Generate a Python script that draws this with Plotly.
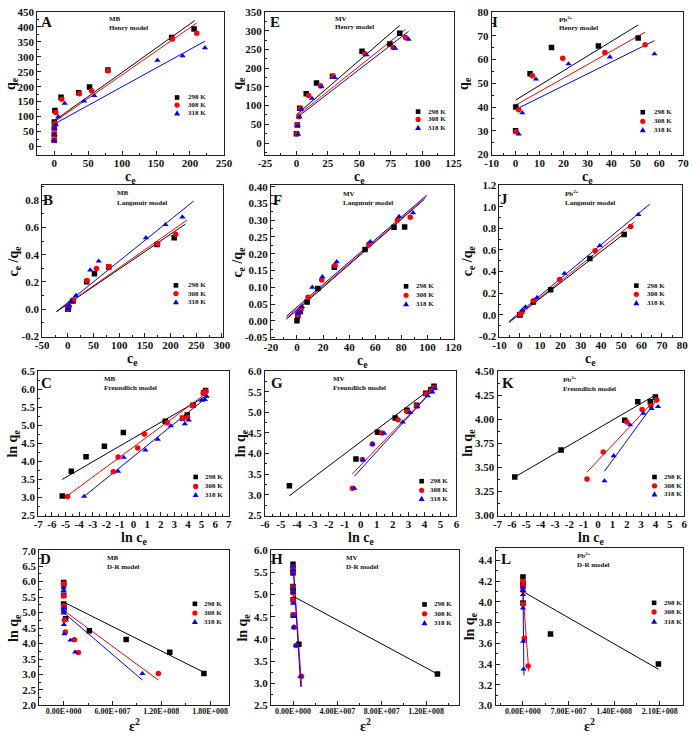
import math
import plotly.graph_objects as go

W, H = 700, 740
COLORS = ['#000000', '#ff0000', '#0000ff']
SYMBOLS = ['square', 'circle', 'triangle-up']
TEMPS = ['298 K', '308 K', '318 K']

# ---------------- MB ----------------
A_x = [[0.005, 0.01, 0.03, 0.11, 1.0, 10, 36, 52, 79, 173, 206],
       [0.015, 0.22, 0.3, 1.35, 2.2, 11, 37, 55, 79, 174, 210],
       [0.025, 0.33, 0.5, 2.3, 6, 15.4, 44, 59, 152, 189, 222]]
A_y = [[20.7, 41, 62, 82, 120, 165, 180, 199, 256, 364, 393],
       [20.7, 40.4, 60.3, 77.5, 114, 158, 176, 186, 253, 359, 379],
       [20.7, 40.4, 60.3, 72, 99, 144, 152, 170, 288, 303, 330]]
A_fx = [[0, 207], [0, 210], [0, 222]]
A_fy = [[86, 421], [82, 413], [75, 352]]

B_x = [[0.005, 0.01, 0.03, 0.11, 1.0, 10, 36.6, 51.8, 79.6, 173.7, 207],
       [0.015, 0.22, 0.3, 1.35, 2.2, 11, 37.3, 55.6, 79.6, 175, 210],
       [0.025, 0.33, 0.5, 2.3, 6, 15.8, 43.6, 60, 152, 190, 223]]
B_y = [[0.0003, 0.0003, 0.0005, 0.0013, 0.008, 0.06, 0.202, 0.26, 0.309, 0.475, 0.523],
       [0.0007, 0.005, 0.005, 0.017, 0.019, 0.069, 0.21, 0.299, 0.313, 0.48, 0.55],
       [0.0012, 0.008, 0.008, 0.031, 0.06, 0.10, 0.287, 0.352, 0.523, 0.62, 0.675]]
B_fx = [[-22, 229], [-22, 232], [-22, 245]]
B_fy = [[-0.017, 0.624], [-0.017, 0.653], [-0.017, 0.793]]

C_x = [[-5.24, -4.57, -3.49, -2.14, -0.75, 2.33, 3.6, 3.94, 4.37, 5.15, 5.29],
       [-4.85, -1.49, -1.13, 0.31, 0.79, 2.48, 3.6, 3.97, 4.33, 5.12, 5.31],
       [-3.63, -1.13, -0.72, 0.87, 1.78, 2.74, 3.77, 4.06, 5.02, 5.24, 5.38]]
C_y = [[3.04, 3.73, 4.13, 4.42, 4.80, 5.11, 5.19, 5.28, 5.55, 5.90, 5.96],
       [3.03, 3.71, 4.12, 4.37, 4.76, 5.07, 5.19, 5.22, 5.54, 5.89, 5.94],
       [3.03, 3.72, 4.11, 4.31, 4.61, 4.98, 5.04, 5.14, 5.69, 5.71, 5.80]]
C_fx = [[-5.24, 5.34], [-4.86, 5.34], [-3.63, 5.38]]
C_fy = [[3.50, 5.81], [3.05, 5.88], [3.03, 5.77]]

D_x = [[1.724e8, 1.304e8, 7.68e7, 3.16e7, 2.4e6, 3e5, 5e4, 3e4, 1e4, 2e3, 1e3],
       [1.164e8, 1.8e7, 1.32e7, 2.0e6, 8e5, 2e5, 5e4, 3e4, 1e4, 2e3, 1e3],
       [9.68e7, 1.4e7, 8.4e6, 9e5, 3e5, 1e5, 5e4, 3e4, 5e3, 2e3, 1e3]]
D_y = [[3.03, 3.72, 4.13, 4.41, 4.80, 5.11, 5.19, 5.28, 5.55, 5.90, 5.97],
       [3.03, 3.71, 4.12, 4.37, 4.76, 5.07, 5.19, 5.22, 5.54, 5.89, 5.94],
       [3.03, 3.72, 4.11, 4.31, 4.61, 4.98, 5.04, 5.14, 5.69, 5.71, 5.80]]
D_fx = [[0, 1.724e8], [0, 1.164e8], [0, 9.68e7]]
D_fy = [[5.34, 3.07], [5.07, 2.82], [5.0, 2.82]]

# ---------------- MV ----------------
E_x = [[0.01, 0.7, 2.6, 7.8, 16.0, 28.7, 52.2, 74.4, 82.2],
       [0.5, 0.8, 2.0, 3.3, 9.7, 19.2, 29.2, 54.5, 77, 86.8],
       [1.3, 1.3, 2.3, 3.9, 12.4, 20, 30.4, 55.8, 78.6, 89.2]]
E_y = [[25, 48, 93, 131.6, 160.5, 178, 244.7, 264, 293],
       [24.6, 48, 70, 92, 127, 152.6, 178, 238.6, 255, 282],
       [23, 47, 70, 90, 119, 150, 174.6, 235, 253, 277]]
E_fx = [[0, 82.2], [0, 86.8], [0, 89.2]]
E_fy = [[75.4, 314], [71, 303.5], [66.7, 298]]

F_x = [[0.01, 0.7, 2.6, 7.8, 16.0, 28.7, 52.2, 74.4, 82.5],
       [0.5, 0.8, 2.0, 3.3, 8.5, 19.0, 29.2, 55, 77, 86.8],
       [0.58, 1.05, 2.0, 3.9, 11.75, 19.5, 30.5, 56.2, 78.2, 89]]
F_y = [[0.0004, 0.0146, 0.028, 0.056, 0.096, 0.160, 0.213, 0.279, 0.28],
       [0.02, 0.017, 0.029, 0.036, 0.07, 0.122, 0.165, 0.228, 0.301, 0.309],
       [0.024, 0.022, 0.029, 0.042, 0.10, 0.131, 0.176, 0.236, 0.311, 0.322]]
F_fx = [[-8, 97.5], [-8, 98.7], [-8, 99.5]]
F_fy = [[0.005, 0.362], [0.009, 0.368], [0.014, 0.375]]

G_x = [[-4.47, -0.3, 1.05, 2.16, 2.9, 3.5, 4.08, 4.4, 4.59],
       [-0.52, 0.1, 0.73, 1.32, 2.34, 2.9, 3.5, 4.1, 4.43, 4.61],
       [-0.4, 0.15, 0.73, 1.46, 2.63, 3.1, 3.55, 4.2, 4.49, 4.65]]
G_y = [[3.22, 3.87, 4.52, 4.86, 5.05, 5.17, 5.46, 5.55, 5.63],
       [3.16, 3.86, 4.23, 4.50, 4.82, 5.02, 5.15, 5.44, 5.52, 5.60],
       [3.16, 3.85, 4.23, 4.49, 4.76, 4.99, 5.13, 5.40, 5.49, 5.58]]
G_fx = [[-4.47, 4.59], [-0.52, 4.61], [-0.4, 4.65]]
G_fy = [[2.98, 5.63], [3.51, 5.58], [3.45, 5.60]]

H_x = [[1.302e8, 5.3e6, 3e5, 1e5, 5e4, 3e4, 1e4, 5e3, 3e3],
       [7.6e6, 2.6e6, 9e5, 3e5, 1e5, 5e4, 2e4, 1e4, 5e3, 3e3],
       [6.7e6, 3e6, 9e5, 3e5, 1e5, 5e4, 2e4, 1e4, 5e3, 3e3]]
H_y = [[3.21, 3.88, 4.53, 4.88, 5.08, 5.18, 5.50, 5.58, 5.68],
       [3.16, 3.85, 4.26, 4.54, 4.87, 5.03, 5.17, 5.47, 5.56, 5.62],
       [3.15, 3.85, 4.26, 4.52, 4.80, 5.04, 5.14, 5.46, 5.55, 5.64]]
H_fx = [[0, 1.302e8], [0, 7.8e6], [0, 7.0e6]]
H_fy = [[4.96, 3.21], [5.70, 2.92], [5.70, 2.92]]

# ---------------- Pb2+ ----------------
I_x = [[0, 0.1, 6.05, 15, 34.6, 51.2],
       [0.2, 1.3, 7, 19.7, 37.3, 54.1],
       [1.3, 2.8, 8.5, 22.1, 39.4, 58]]
I_y = [[30, 40, 54, 65, 65.7, 69],
       [29.6, 38.8, 53.1, 60.5, 62.9, 66.2],
       [28.6, 37.5, 51.7, 58.1, 61.0, 62.3]]
I_fx = [[0, 51.2], [0, 54.1], [1.3, 58]]
I_fy = [[42.9, 74.5], [40.8, 71.5], [39.6, 67.9]]

J_x = [[0, 0.1, 6.7, 15.2, 34.5, 51.4],
       [0.2, 1.2, 7, 19.6, 37.1, 54.6],
       [1.3, 2.8, 8.5, 22, 39.4, 58.4]]
J_y = [[0.0, 0.003, 0.12, 0.232, 0.522, 0.742],
       [0.007, 0.03, 0.133, 0.328, 0.594, 0.816],
       [0.045, 0.074, 0.16, 0.383, 0.64, 0.927]]
J_fx = [[-5.2, 52.6], [-5.2, 56.5], [-5.2, 64]]
J_fy = [[-0.068, 0.767], [-0.068, 0.86], [-0.059, 1.023]]

K_x = [[-5.8, -2.57, 1.86, 2.77, 3.64, 4.0],
       [-0.77, 0.36, 2.0, 3.07, 3.68, 4.09],
       [0.45, 1.09, 2.23, 3.16, 3.73, 4.18]]
K_y = [[3.40, 3.68, 3.99, 4.18, 4.18, 4.23],
       [3.38, 3.66, 3.97, 4.10, 4.14, 4.20],
       [3.36, 3.62, 3.94, 4.06, 4.11, 4.13]]
K_fx = [[-5.8, 4.0], [-0.77, 4.09], [0.45, 4.18]]
K_fy = [[3.40, 4.25], [3.45, 4.22], [3.46, 4.22]]

L_x = [[2.08e8, 4.23e7, 1e5, 5e4, 2e4, 1e4],
       [8e6, 2e6, 2e5, 5e4, 2e4, 1e4],
       [1e6, 5e5, 1e5, 5e4, 2e4, 1e4]]
L_y = [[3.40, 3.69, 3.99, 4.18, 4.16, 4.24],
       [3.38, 3.65, 3.98, 4.11, 4.16, 4.20],
       [3.35, 3.62, 3.94, 4.07, 4.11, 4.14]]
L_fx = [[0, 2.08e8], [-1.5e6, 9e6], [0, 1.5e6]]
L_fy = [[4.10, 3.35], [4.21, 3.33], [4.19, 3.29]]

# exponent-style tick labels for the D-R panels
D_ticks = [0, 6e7, 1.2e8, 1.8e8]
D_ticktext = ['0.00E+000', '6.00E+007', '1.20E+008', '1.80E+008']
H_ticks = [0, 4e7, 8e7, 1.2e8]
H_ticktext = ['0.00E+000', '4.00E+007', '8.00E+007', '1.20E+008']
L_ticks = [0, 7e7, 1.4e8, 2.1e8]
L_ticktext = ['0.00E+000', '7.00E+007', '1.40E+008', '2.10E+008']

QE = 'q<sub>e</sub>'
CE = 'c<sub>e</sub>'
CEQE = 'c<sub>e</sub> /q<sub>e</sub>'
LNQ = 'ln q<sub>e</sub>'
LNC = 'ln c<sub>e</sub>'
EPS = '&#949;<sup>2</sup>'
PB = 'Pb<sup>2+</sup>'


def linear_ticks(lo, hi, step, fmt):
    """Major tick positions in [lo, hi] with ASCII-hyphen labels (as in the original)."""
    vals, texts = [], []
    k0 = math.ceil(lo / step - 1e-9)
    k1 = math.floor(hi / step + 1e-9)
    for k in range(k0, k1 + 1):
        v = round(k * step, 10)
        t = str(int(round(v))) if fmt == 'd' else format(v, fmt)
        if t.startswith('-') and float(t) == 0:
            t = t[1:]
        vals.append(v)
        texts.append(t)
    return vals, texts


# frame in pixels (x0, x1, y0, y1), axis settings, text placement (domain fractions),
# axis-title offsets in pixels (x title below frame, y title left of frame)
XT = 22.5
panels = [
    dict(L='A', d=(A_x, A_y, A_fx, A_fy), fr=(31, 222, 6, 151), s1='MB', s2='Henry model',
         xr=[-25, 250], xd=50, xf='d', yr=[-27, 450], yd=50, yf='d', xt=CE, yt=QE, toff=(XT, 26.5),
         let=(0.05, 0.928), sub=(0.372, 0.948, 0.89), leg=(0.749, 0.796, [0.40, 0.347, 0.29])),
    dict(L='B', d=(B_x, B_y, B_fx, B_fy), fr=(36, 221, 182, 336), s1='MB', s2='Langmuir model',
         xr=[-50, 302], xd=50, xf='d', yr=[-0.2, 0.91], yd=0.2, yf='.1f', xt=CE, yt=CEQE, toff=(XT, 27.5),
         let=(0.032, 0.90), sub=(0.405, 0.948, 0.883), leg=(0.74, 0.795, [0.338, 0.284, 0.227])),
    dict(L='C', d=(C_x, C_y, C_fx, C_fy), fr=(32, 227, 371, 518), s1='MB', s2='Freundlich model',
         xr=[-7, 7], xd=1, xf='d', yr=[2.5, 6.5], yd=0.5, yf='.1f', xt=LNC, yt=LNQ, toff=(XT, 25),
         let=(0.041, 0.918), sub=(0.333, 0.946, 0.884), leg=(0.826, 0.862, [0.267, 0.202, 0.143])),
    dict(L='D', d=(D_x, D_y, D_fx, D_fy), fr=(33, 227, 553, 711), s1='MB', s2='D-R model',
         xr=[-3e7, 2.03e8], tv=(D_ticks, D_ticktext), xmd=3e7, yr=[2.0, 7.02], yd=0.5, yf='.1f',
         xt=EPS, yt=LNQ, toff=(20, 24),
         let=(0.034, 0.94), sub=(0.345, 0.949, 0.892), leg=(0.821, 0.861, [0.654, 0.595, 0.538])),
    dict(L='E', d=(E_x, E_y, E_fx, E_fy), fr=(264, 457, 6, 151), s1='MV', s2='Henry model',
         xr=[-25, 125], xd=25, xf='d', yr=[-30.7, 350], yd=50, yf='d', xt=CE, yt=QE, toff=(XT, 26.5),
         let=(0.055, 0.93), sub=(0.36, 0.952, 0.897), leg=(0.812, 0.855, [0.301, 0.246, 0.188])),
    dict(L='F', d=(F_x, F_y, F_fx, F_fy), fr=(270, 457, 182, 338), s1='MV', s2='Langmuir model',
         xr=[-20, 120], xd=20, xf='d', yr=[-0.053, 0.405], yd=0.05, yf='.2f', xt=CE, yt=CEQE, toff=(XT, 32),
         let=(0.035, 0.904), sub=(0.383, 0.942, 0.885), leg=(0.74, 0.784, [0.34, 0.282, 0.224])),
    dict(L='G', d=(G_x, G_y, G_fx, G_fy), fr=(264, 460, 371, 518), s1='MV', s2='Freundlich model',
         xr=[-6, 6], xd=1, xf='d', yr=[2.5, 6.0], yd=0.5, yf='.1f', xt=LNC, yt=LNQ, toff=(XT, 24),
         let=(0.061, 0.918), sub=(0.345, 0.943, 0.882), leg=(0.818, 0.852, [0.238, 0.175, 0.116])),
    dict(L='H', d=(H_x, H_y, H_fx, H_fy), fr=(270, 463, 553, 711), s1='MV', s2='D-R model',
         xr=[-2e7, 1.5e8], tv=(H_ticks, H_ticktext), xmd=2e7, yr=[2.5, 6.0], yd=0.5, yf='.1f',
         xt=EPS, yt=LNQ, toff=(20, 27),
         let=(0.031, 0.94), sub=(0.389, 0.949, 0.892), leg=(0.815, 0.855, [0.65, 0.59, 0.53])),
    dict(L='I', d=(I_x, I_y, I_fx, I_fy), fr=(496, 692, 6, 151), s1=PB, s2='Henry model',
         xr=[-10, 70], xd=10, xf='d', yr=[20, 80], yd=10, yf='d', xt=CE, yt=QE, toff=(XT, 27),
         let=(0.02, 0.93), sub=(0.34, 0.95, 0.89), leg=(0.789, 0.837, [0.297, 0.233, 0.172])),
    dict(L='J', d=(J_x, J_y, J_fx, J_fy), fr=(504, 691, 182, 336), s1=PB, s2='Langmuir model',
         xr=[-10, 80], xd=10, xf='d', yr=[-0.2, 1.2], yd=0.2, yf='.1f', xt=CE, yt=CEQE, toff=(XT, 31),
         let=(0.027, 0.906), sub=(0.349, 0.942, 0.883), leg=(0.749, 0.798, [0.336, 0.279, 0.221])),
    dict(L='K', d=(K_x, K_y, K_fx, K_fy), fr=(502, 693, 371, 518), s1=PB, s2='Freundlich model',
         xr=[-7, 6], xd=1, xf='d', yr=[3.0, 4.5], yd=0.25, yf='.2f', xt=LNC, yt=LNQ, toff=(XT, 29),
         let=(0.058, 0.918), sub=(0.339, 0.943, 0.878), leg=(0.841, 0.883, [0.267, 0.206, 0.148])),
    dict(L='L', d=(L_x, L_y, L_fx, L_fy), fr=(500, 692, 551, 711), s1=PB, s2='D-R model',
         xr=[-4.2e7, 2.46e8], tv=(L_ticks, L_ticktext), xmd=3.5e7, yr=[3.0, 4.52], yd=0.2, yf='.1f',
         xt=EPS, yt=LNQ, toff=(20, 25),
         let=(0.057, 0.928), sub=(0.425, 0.954, 0.892), leg=(0.845, 0.885, [0.652, 0.594, 0.533])),
]

SERIF = 'Liberation Serif'
INK = '#111'
TICKFONT = dict(family=SERIF, size=11, color=INK, weight='bold')
ETICKFONT = dict(family=SERIF, size=8, color=INK, weight='bold')
TITLEFONT = dict(family=SERIF, size=14, color=INK, weight='bold')
SMALLFONT = dict(family=SERIF, size=7, color=INK, weight='bold')

fig = go.Figure()
layout = {}
annotations = []
shapes = []

for i, p in enumerate(panels):
    n = i + 1
    sfx = '' if n == 1 else str(n)
    xa, ya = 'x' + sfx, 'y' + sfx
    xs, ys, fxs, fys = p['d']
    for k in range(3):
        fig.add_trace(go.Scatter(x=fxs[k], y=fys[k], mode='lines',
                                 line=dict(color=COLORS[k], width=1),
                                 xaxis=xa, yaxis=ya, showlegend=False, hoverinfo='skip'))
    for k in range(3):
        fig.add_trace(go.Scatter(x=xs[k], y=ys[k], mode='markers', name=TEMPS[k],
                                 marker=dict(symbol=SYMBOLS[k], color=COLORS[k], size=5.5,
                                             line=dict(width=0)),
                                 xaxis=xa, yaxis=ya, showlegend=False))
    x0, x1, y0, y1 = p['fr']
    common = dict(showline=True, mirror=True, linecolor='#222', linewidth=1,
                  ticks='inside', ticklen=4, tickwidth=1, tickcolor='#222',
                  showgrid=False, zeroline=False, tickangle=0, ticklabeloverflow='allow',
                  tickmode='array')
    if 'tv' in p:
        xtv, xtt, xfont, xminor = p['tv'][0], p['tv'][1], ETICKFONT, p['xmd']
    else:
        xtv, xtt = linear_ticks(p['xr'][0], p['xr'][1], p['xd'], p['xf'])
        xfont, xminor = TICKFONT, p['xd'] / 2
    ytv, ytt = linear_ticks(p['yr'][0], p['yr'][1], p['yd'], p['yf'])
    xax = dict(domain=[x0 / W, x1 / W], anchor=ya, range=p['xr'],
               tickvals=xtv, ticktext=xtt, tickfont=xfont, ticklabelstandoff=-2,
               minor=dict(tickmode='linear', tick0=0, dtick=xminor, ticks='inside',
                          ticklen=2, tickcolor='#222'), **common)
    yax = dict(domain=[1 - y1 / H, 1 - y0 / H], anchor=xa, range=p['yr'],
               tickvals=ytv, ticktext=ytt, tickfont=TICKFONT,
               minor=dict(tickmode='linear', tick0=0, dtick=p['yd'] / 2, ticks='inside',
                          ticklen=2, tickcolor='#222'), **common)
    layout['xaxis' + sfx] = xax
    layout['yaxis' + sfx] = yax

    xref, yref = xa + ' domain', ya + ' domain'
    # axis titles
    xoff, yoff = p['toff']
    annotations.append(dict(text=p['xt'], xref=xref, yref=yref, x=0.5, y=0, yshift=-xoff,
                            xanchor='center', yanchor='middle', showarrow=False, font=TITLEFONT))
    annotations.append(dict(text=p['yt'], xref=xref, yref=yref, x=0, y=0.5, xshift=-yoff,
                            xanchor='center', yanchor='middle', textangle=-90,
                            showarrow=False, font=TITLEFONT))
    # panel letter and caption
    annotations.append(dict(text=p['L'], xref=xref, yref=yref, x=p['let'][0], y=p['let'][1],
                            xanchor='center', yanchor='middle', showarrow=False,
                            font=dict(family=SERIF, size=15, color=INK, weight='bold')))
    sx, sy1, sy2 = p['sub']
    for txt, yy in ((p['s1'], sy1), (p['s2'], sy2)):
        annotations.append(dict(text=txt, xref=xref, yref=yref, x=sx, y=yy,
                                xanchor='left', yanchor='middle', showarrow=False, font=SMALLFONT))
    # legend
    mx, tx, rows = p['leg']
    for k in range(3):
        annotations.append(dict(text=TEMPS[k], xref=xref, yref=yref, x=tx, y=rows[k],
                                xanchor='left', yanchor='middle', showarrow=False, font=SMALLFONT))
        base = dict(xref=xref, yref=yref, xsizemode='pixel', ysizemode='pixel',
                    xanchor=mx, yanchor=rows[k], fillcolor=COLORS[k], line=dict(width=0))
        if k == 0:
            shapes.append(dict(type='rect', x0=-2.3, x1=2.3, y0=-2.3, y1=2.3, **base))
        elif k == 1:
            shapes.append(dict(type='circle', x0=-2.6, x1=2.6, y0=-2.6, y1=2.6, **base))
        else:
            shapes.append(dict(type='path', path='M -3,-2.2 L 3,-2.2 L 0,3 Z', **base))

fig.update_layout(width=W, height=H, margin=dict(l=0, r=0, t=0, b=0),
                  paper_bgcolor='white', plot_bgcolor='white',
                  showlegend=False, annotations=annotations, shapes=shapes, **layout)

fig.write_html("out.html", config={'displayModeBar': False},
               post_script="document.body.style.margin='0';document.body.style.overflow='hidden';")
